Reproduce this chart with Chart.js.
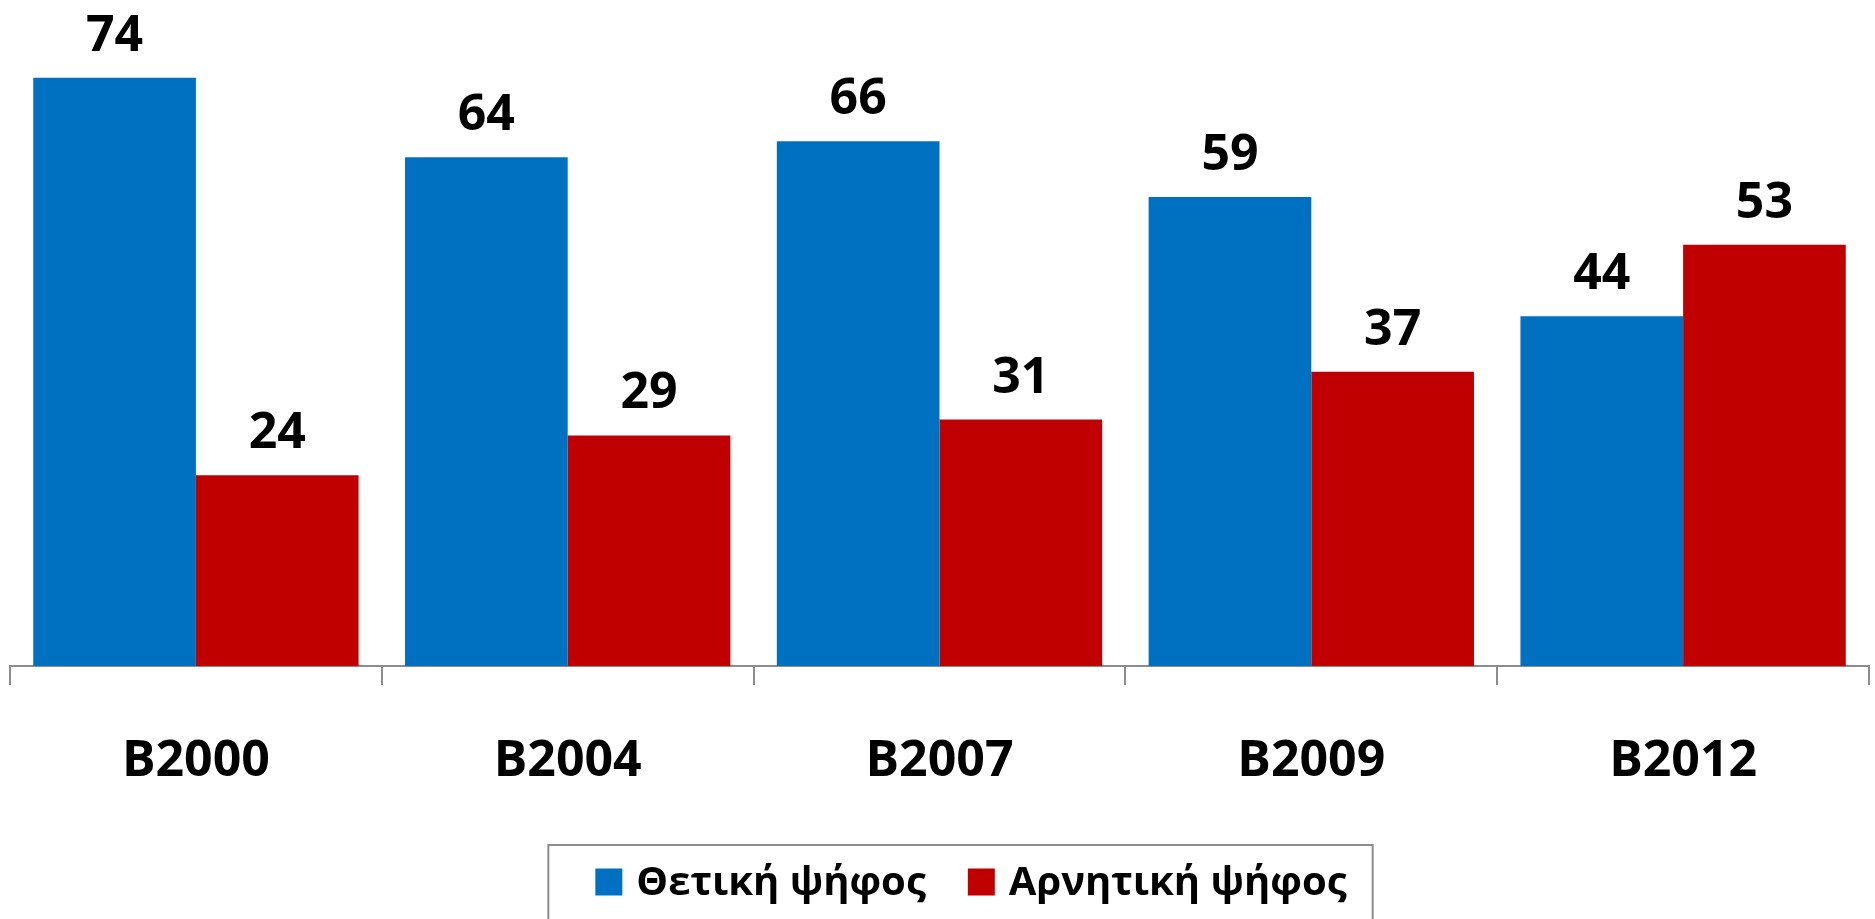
<!DOCTYPE html>
<html>
<head>
<meta charset="utf-8">
<script src="https://cdn.jsdelivr.net/npm/chart.js@4"></script>
<style>
  body { margin: 0; background: #fff; }
  #wrap { width: 1875px; height: 919px; }
</style>
</head>
<body>
<div id="wrap"><canvas id="voteChart" width="1875" height="919"></canvas></div>
<script>
// data
var categories = ['B2000', 'B2004', 'B2007', 'B2009', 'B2012'];
var positive = [74, 64, 66, 59, 44];
var negative = [24, 29, 31, 37, 53];
var seriesNames = ['Θετική ψήφος', 'Αρνητική ψήφος'];

var FONT = '"Open Sans", "Noto Sans", sans-serif';

// value labels above each bar
var valueLabels = {
    id: 'valueLabels',
    afterDatasetsDraw(chart) {
        var ctx = chart.ctx;
        ctx.save();
        ctx.font = 'bold 50px ' + FONT;
        ctx.fillStyle = '#000';
        ctx.textAlign = 'center';
        ctx.textBaseline = 'alphabetic';
        chart.data.datasets.forEach(function (ds, i) {
            var meta = chart.getDatasetMeta(i);
            meta.data.forEach(function (bar, j) {
                ctx.fillText(ds.data[j], bar.x, bar.y - 27);
            });
        });
        ctx.restore();
    }
};

// boxed legend under the axis
var boxedLegend = {
    id: 'boxedLegend',
    afterDraw(chart) {
        var ctx = chart.ctx;
        ctx.save();
        ctx.font = 'bold 40px ' + FONT;
        var sw = 27, gapText = 14, gapItem = 42;
        var items = chart.data.datasets.map(function (d) {
            return { label: d.label, color: d.backgroundColor, w: ctx.measureText(d.label).width };
        });
        var total = 0;
        items.forEach(function (it) { total += sw + gapText + it.w; });
        total += gapItem * (items.length - 1);
        var x = 971 - total / 2;
        var cy = 882;

        ctx.strokeStyle = '#8c8c8c';
        ctx.lineWidth = 2;
        ctx.strokeRect(x - 47, 845, total + 47 + 26, 120);

        ctx.textBaseline = 'middle';
        ctx.textAlign = 'left';
        items.forEach(function (it) {
            ctx.fillStyle = it.color;
            ctx.fillRect(x, cy - sw / 2, sw, sw);
            ctx.fillStyle = '#000';
            ctx.fillText(it.label, x + sw + gapText, cy + 2);
            x += sw + gapText + it.w + gapItem;
        });
        ctx.restore();
    }
};

var ctx = document.getElementById('voteChart').getContext('2d');

var voteChart = new Chart(ctx, {
    type: 'bar',
    data: {
        labels: categories,
        datasets: [{
            label: seriesNames[0],
            data: positive,
            backgroundColor: '#0070C0',
            categoryPercentage: 0.875,
            barPercentage: 1.0
        }, {
            label: seriesNames[1],
            data: negative,
            backgroundColor: '#C00000',
            categoryPercentage: 0.875,
            barPercentage: 1.0
        }]
    },
    options: {
        responsive: false,
        animation: false,
        layout: {
            padding: { top: 30, left: 10, right: 6, bottom: 0 }
        },
        plugins: {
            legend: { display: false },
            tooltip: { enabled: false }
        },
        scales: {
            x: {
                grid: {
                    offset: true,
                    drawOnChartArea: false,
                    drawTicks: true,
                    tickLength: 19,
                    color: '#8c8c8c',
                    lineWidth: 2
                },
                border: { display: true, color: '#8c8c8c', width: 2 },
                ticks: {
                    color: '#000',
                    padding: 47,
                    font: { family: FONT, size: 50, weight: 'bold' }
                },
                afterFit: function (scale) { scale.height = 253; }
            },
            y: {
                display: false,
                min: 0,
                max: 80
            }
        }
    },
    plugins: [valueLabels, boxedLegend]
});
</script>
</body>
</html>
